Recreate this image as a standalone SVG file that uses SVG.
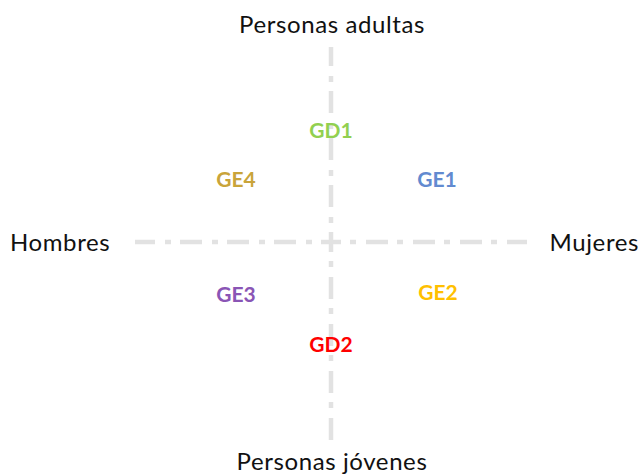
<svg xmlns="http://www.w3.org/2000/svg" width="643" height="475" viewBox="0 0 643 475">
<style>
.axis{stroke:#e2e2e2;stroke-width:4.5;fill:none;stroke-linecap:butt;stroke-dasharray:22 9 6 10;stroke-dashoffset:12}
.lbl{font-family:Lato,"Open Sans",sans-serif;font-size:24px;letter-spacing:0.6px;fill:#111}
.g{font-family:Lato,"Open Sans",sans-serif;font-size:21px;font-weight:bold;text-anchor:middle}
</style>
<rect width="643" height="475" fill="#fff"/>
<g id="connectors">
<path class="axis" d="M331 242 H135"/>
<path class="axis" d="M331 242 H527"/>
<path class="axis" d="M331 242 V47"/>
<path class="axis" d="M331 242 V440"/>
</g>
<g id="top"><text class="lbl" x="332" y="33" text-anchor="middle">Personas adultas</text></g>
<g id="bottom"><text class="lbl" x="332" y="470" text-anchor="middle">Personas jóvenes</text></g>
<g id="left"><text class="lbl" x="10" y="251">Hombres</text></g>
<g id="right"><text class="lbl" x="639" y="251" text-anchor="end">Mujeres</text></g>
<g id="GD1"><text class="g" x="331" y="138" fill="#92d050">GD1</text></g>
<g id="GE4"><text class="g" x="236" y="187" fill="#c9a43a">GE4</text></g>
<g id="GE1"><text class="g" x="437" y="187" fill="#628ad0">GE1</text></g>
<g id="GE3"><text class="g" x="236" y="302" fill="#8a55b5">GE3</text></g>
<g id="GE2"><text class="g" x="438" y="300" fill="#ffc000">GE2</text></g>
<g id="GD2"><text class="g" x="331" y="352" fill="#ff0000">GD2</text></g>
</svg>
